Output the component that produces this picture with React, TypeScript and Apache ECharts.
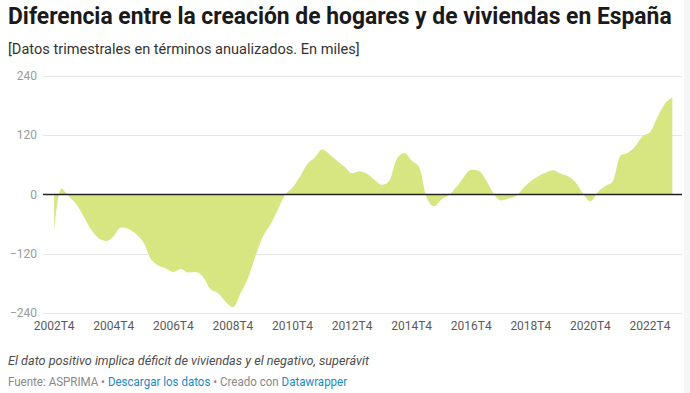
import React, { useEffect, useRef } from "react";
import * as echarts from "echarts";

const tickLabels = ["2002T4", "2004T4", "2006T4", "2008T4", "2010T4", "2012T4", "2014T4", "2016T4", "2018T4", "2020T4", "2022T4"];
const tickIndexes = [0, 8, 16, 24, 32, 40, 48, 56, 64, 72, 80];

// Quarterly values 2002T4 .. 2023T3 (thousands, annualised)
const values = [
  -79, 12, -4, -20, -45, -72, -89, -94, -84, -67,
  -70, -80, -97, -131, -144, -150, -157, -151, -158, -157,
  -167, -192, -200, -217, -228, -201, -170, -126, -86, -62,
  -32, -1, 14, 36, 62, 75, 91, 81, 68, 56,
  43, 47, 42, 30, 20, 28, 72, 84, 69, 56,
  -5, -24, -10, -1, 15, 35, 50, 48, 29, 2,
  -12, -8, -3, 13, 27, 37, 44, 49, 42, 37,
  25, 2, -14, 5, 17, 27, 78, 84, 97, 118,
  126, 157, 184, 197,
];

const yTicks = [-240, -120, 0, 120, 240];

const title = "Diferencia entre la creación de hogares y de viviendas en España";
const subtitle = "[Datos trimestrales en términos anualizados. En miles]";
const note = "El dato positivo implica déficit de viviendas y el negativo, superávit";

function measure(font: string, text: string): number {
  const c = document.createElement("canvas").getContext("2d");
  if (!c) return 1;
  c.font = font;
  return c.measureText(text).width || 1;
}

export default function App() {
  const ref = useRef<HTMLDivElement>(null);
  useEffect(() => {
    if (!ref.current) return;
    const chart = echarts.init(ref.current, undefined, { renderer: "svg" });
    const titleFont = "bold 23px Roboto";
    const subFont = "14px Roboto";
    const noteFont = "italic 12.5px Roboto";
    const srcFont = "12px Roboto";
    const srcText = "Fuente: ASPRIMA • Descargar los datos • Creado con Datawrapper";
    const sTitle = 664 / measure(titleFont, title);
    const sSub = 352 / measure(subFont, subtitle);
    const sNote = 361 / measure(noteFont, note);
    const sSrc = 339 / measure(srcFont, srcText);

    const data = values.map((v, i) => [i, v]);

    chart.setOption({
      animation: false,
      backgroundColor: "#ffffff",
      grid: { left: 43, right: 8, top: 76, bottom: 80, containLabel: false },
      xAxis: {
        type: "value",
        min: -1.5,
        max: 84.3,
        axisLine: { show: false },
        axisTick: { show: false },
        splitLine: { show: false },
        axisLabel: {
          customValues: tickIndexes,
          formatter: (v: number) => {
            const k = tickIndexes.indexOf(Math.round(v));
            return k >= 0 ? tickLabels[k] : "";
          },
          color: "#5a5a5a",
          fontFamily: "Roboto",
          fontSize: 12,
          margin: 7,
        },
      },
      yAxis: {
        type: "value",
        min: -240,
        max: 240,
        interval: 120,
        axisLine: { show: false },
        axisTick: { show: false },
        splitLine: { show: true, lineStyle: { color: "#e6e6e6", width: 1 } },
        axisLabel: {
          formatter: (v: number) => (yTicks.includes(v) ? String(v).replace("-", "\u2212") : ""),
          color: "#9a9a9a",
          fontFamily: "Roboto",
          fontSize: 12,
          margin: 6,
        },
      },
      series: [
        {
          type: "line",
          data,
          smooth: 0.35,
          showSymbol: false,
          lineStyle: { width: 0 },
          areaStyle: { color: "#d7e681", opacity: 1 },
          markLine: {
            silent: true,
            symbol: "none",
            label: { show: false },
            lineStyle: { color: "#222222", width: 1.3, type: "solid" },
            data: [{ yAxis: 0 }],
          },
          z: 2,
        },
      ],
      graphic: [
        {
          type: "rect",
          shape: { x: 684, y: 0, width: 6, height: 393 },
          style: { fill: "#f6f6f6" },
          silent: true,
        },
        {
          type: "text",
          x: 8,
          y: 16,
          scaleX: sTitle,
          style: { text: title, font: titleFont, fill: "#1a1a1a", verticalAlign: "middle" },
        },
        {
          type: "text",
          x: 8,
          y: 49,
          scaleX: sSub,
          style: { text: subtitle, font: subFont, fill: "#333333", verticalAlign: "middle" },
        },
        {
          type: "text",
          x: 8,
          y: 361,
          scaleX: sNote,
          style: { text: note, font: noteFont, fill: "#4d4d4d", verticalAlign: "middle" },
        },
        {
          type: "text",
          x: 8,
          y: 382,
          scaleX: sSrc,
          style: {
            text: "{g|Fuente: ASPRIMA • }{b|Descargar los datos}{g| • Creado con }{b|Datawrapper}",
            font: srcFont,
            verticalAlign: "middle",
            rich: {
              g: { fill: "#888888", font: srcFont },
              b: { fill: "#1a8ac4", font: srcFont },
            },
          },
        },
      ],
    });
    return () => chart.dispose();
  }, []);
  return (
    <div
      ref={ref}
      style={{ position: "absolute", left: 0, top: 0, width: 690, height: 393, background: "#fff" }}
    />
  );
}
